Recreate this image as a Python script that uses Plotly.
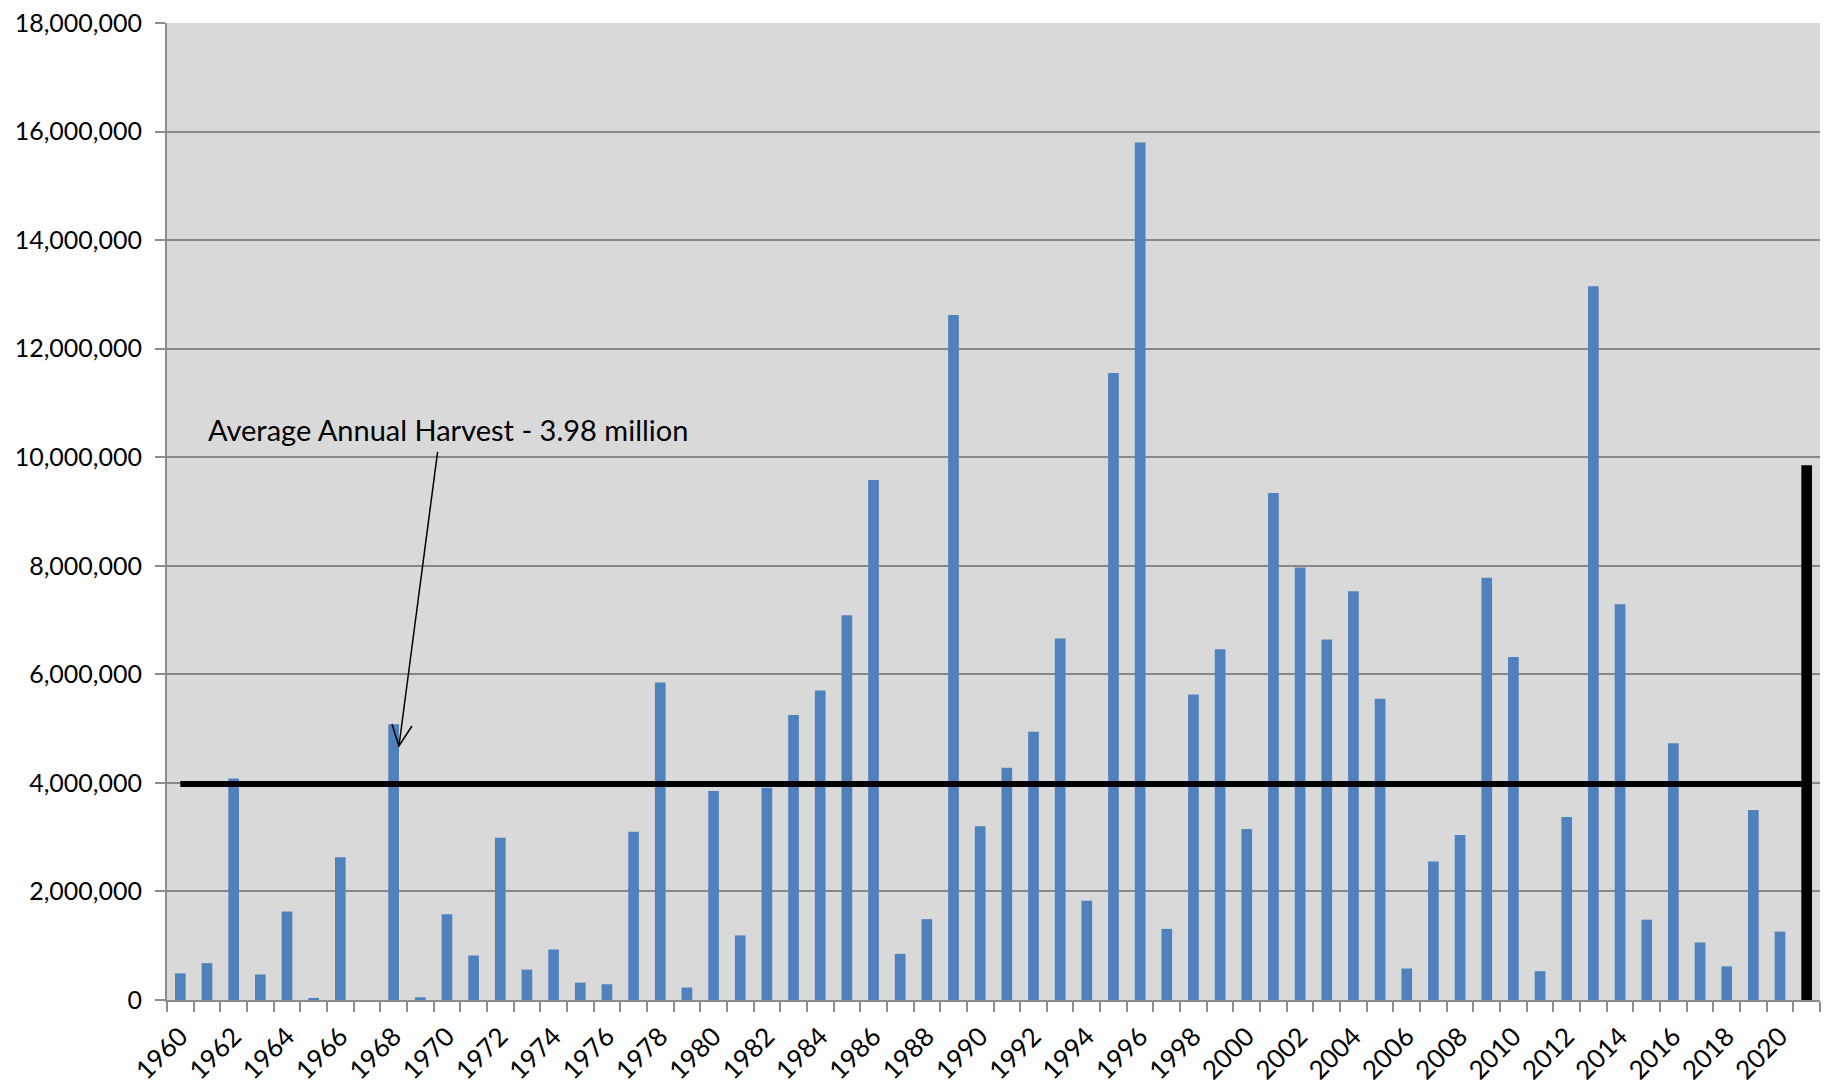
import plotly.graph_objects as go

years = list(range(1960, 2022))
harvest = [
    490000, 680000, 4080000, 470000, 1630000, 30000, 2630000, 0, 5080000, 50000,
    1580000, 820000, 2990000, 560000, 930000, 320000, 290000, 3100000, 5850000, 230000,
    3850000, 1190000, 3910000, 5250000, 5700000, 7090000, 9580000, 850000, 1490000, 12620000,
    3200000, 4280000, 4940000, 6660000, 1830000, 11550000, 15800000, 1310000, 5630000, 6460000,
    3150000, 9340000, 7970000, 6640000, 7530000, 5550000, 580000, 2550000, 3040000, 7780000,
    6320000, 530000, 3370000, 13150000, 7290000, 1480000, 4730000, 1060000, 620000, 3500000,
    1260000, 9850000,
]
bar_colors = ["#4F81BD"] * (len(years) - 1) + ["#000000"]
average = 3980000
label_years = list(range(1960, 2021, 2))
boundaries = [y - 0.5 for y in range(1960, 2023)]
yticks = list(range(0, 18000001, 2000000))
annotation_text = "Average Annual Harvest - 3.98 million"

FONT = "Lato, Carlito, Calibri, sans-serif"

fig = go.Figure()
fig.add_trace(go.Bar(
    x=years, y=harvest,
    marker=dict(color=bar_colors, line=dict(width=0)),
    width=0.4,
    showlegend=False,
))
fig.add_trace(go.Scatter(
    x=[years[0], years[-1]], y=[average, average],
    mode="lines",
    line=dict(color="#000000", width=6),
    showlegend=False,
))

fig.add_annotation(
    x=1960.95, y=10520000, xref="x", yref="y",
    text=annotation_text, showarrow=False,
    xanchor="left", yanchor="middle",
    font=dict(family=FONT, size=29, color="#000000"),
)
# arrow shaft
fig.add_shape(type="line", xref="x", yref="y",
              x0=1969.65, y0=10100000, x1=1968.2, y1=4680000,
              line=dict(color="#000000", width=1.5))
# open arrow head
fig.add_shape(type="path", xref="x", yref="y",
              xsizemode="pixel", ysizemode="pixel",
              xanchor=1968.2, yanchor=4680000,
              path="M -7,22 L 0,0 L 13,20",
              line=dict(color="#000000", width=1.5))

fig.update_layout(
    width=1823, height=1083,
    margin=dict(l=159, r=11, t=15, b=91),
    paper_bgcolor="#FFFFFF",
    plot_bgcolor="#D9D9D9",
    bargap=0.6,
    font=dict(family=FONT, color="#000000"),
    xaxis=dict(
        range=[1959.5, 2021.5],
        automargin=False,
        tickmode="array", tickvals=label_years, ticktext=[str(y) for y in label_years],
        tickangle=-45, ticks="",
        ticklabelstandoff=9,
        ticklabeloverflow="allow",
        tickfont=dict(family=FONT, size=26, color="#000000"),
        showgrid=False, zeroline=False,
        showline=True, linecolor="#8C8C8C", linewidth=2,
        minor=dict(tickmode="array", tickvals=boundaries, ticks="outside",
                   ticklen=10, tickwidth=2, tickcolor="#8C8C8C", showgrid=False),
        fixedrange=True,
    ),
    yaxis=dict(
        range=[0, 18000000],
        automargin=False,
        tickmode="array", tickvals=yticks,
        tickformat=",d",
        ticks="outside", ticklen=10, tickwidth=2, tickcolor="#8C8C8C",
        ticklabelstandoff=8,
        ticklabeloverflow="allow",
        tickfont=dict(family=FONT, size=25, color="#000000"),
        showgrid=True, gridcolor="#878787", gridwidth=2,
        zeroline=False,
        showline=True, linecolor="#8C8C8C", linewidth=2,
        fixedrange=True,
    ),
)

fig.write_html("out.html")
